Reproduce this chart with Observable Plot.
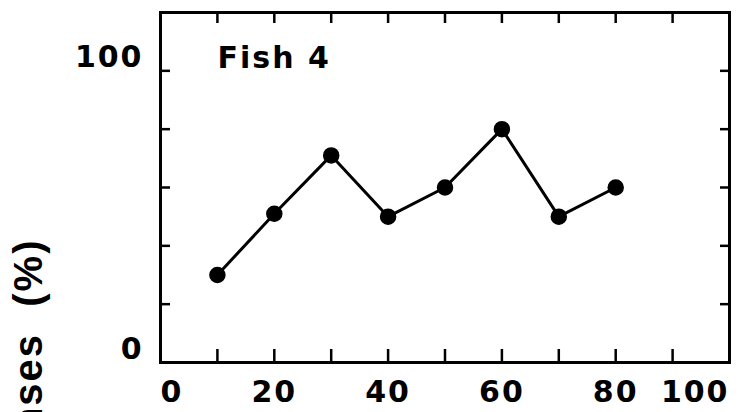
<!DOCTYPE html>
<html>
<head>
<meta charset="utf-8">
<script src="https://cdn.jsdelivr.net/npm/d3@7"></script>
<script src="https://cdn.jsdelivr.net/npm/@observablehq/plot@0.6"></script>
<style>
  html, body { margin: 0; padding: 0; background: #fff; overflow: hidden; }
  .num text { letter-spacing: 2px; }
  .ytitle text { letter-spacing: 2px; }
</style>
</head>
<body>
<div id="chart"></div>
<script>
// ---- data ----
const intervals = [10, 20, 30, 40, 50, 60, 70, 80];
const responses = [30, 51, 71, 50, 60, 80, 50, 60];
const xMinorTicks = [10, 20, 30, 40, 50, 60, 70, 80, 90];
const yMinorTicks = [20, 40, 60, 80, 100];
const xTickLabels = [0, 20, 40, 60, 80, 100];
const yTickLabels = [0, 100];
const panelLabel = "Fish 4";
const yTitle = "Responses\u00a0\u00a0(%)";

const data = intervals.map((x, i) => ({x, y: responses[i]}));

const numFont = {fontFamily: "DejaVu Sans", fontWeight: "bold", fontSize: 30, className: "num"};
const tickStyle = {stroke: "#000", strokeWidth: 2.5, fill: "none", label: null};

const chart = Plot.plot({
  width: 739,
  height: 412,
  marginLeft: 160,
  marginRight: 10,
  marginTop: 12,
  marginBottom: 50,
  style: {background: "#fff", color: "#000", fontFamily: "DejaVu Sans", fontWeight: "bold"},
  x: {domain: [0, 100]},
  y: {domain: [0, 120]},
  marks: [
    // inward ticks on all four sides
    Plot.axisX(xMinorTicks, {anchor: "bottom", tickSize: -13, ...tickStyle}),
    Plot.axisX(xMinorTicks, {anchor: "top", tickSize: -10, ...tickStyle}),
    Plot.axisY(yMinorTicks, {anchor: "left", tickSize: -10, ...tickStyle}),
    Plot.axisY(yMinorTicks, {anchor: "right", tickSize: -10, ...tickStyle}),
    // tick labels
    Plot.axisX(xTickLabels.slice(0, 1), {anchor: "bottom", tickSize: 0, tickPadding: 18, textAnchor: "start", label: null, ...numFont}),
    Plot.axisX(xTickLabels.slice(1, -1), {anchor: "bottom", tickSize: 0, tickPadding: 18, label: null, ...numFont}),
    Plot.axisX(xTickLabels.slice(-1), {anchor: "bottom", tickSize: 0, tickPadding: 18, textAnchor: "end", label: null, ...numFont}),
    Plot.axisY(yTickLabels, {anchor: "left", tickSize: 0, tickPadding: 17, lineAnchor: "bottom", dy: -4, label: null, ...numFont}),
    // frame
    Plot.frame({stroke: "#000", strokeWidth: 3}),
    // data
    Plot.line(data, {x: "x", y: "y", stroke: "#000", strokeWidth: 3}),
    Plot.dot(data, {x: "x", y: "y", r: 7.5, fill: "#000", stroke: "#000"}),
    // panel label
    Plot.text([panelLabel], {frameAnchor: "top-left", textAnchor: "start", lineAnchor: "bottom", dx: 57, dy: 55, ...numFont}),
    // y-axis title (partly outside the picture, as in the reference)
    Plot.text([yTitle], {frameAnchor: "left", rotate: -90, textAnchor: "end", lineAnchor: "bottom", dx: -119, dy: 51,
      fontFamily: "Liberation Sans", fontWeight: "bold", fontSize: 40, className: "ytitle"})
  ]
});
document.getElementById("chart").appendChild(chart);
</script>
</body>
</html>
